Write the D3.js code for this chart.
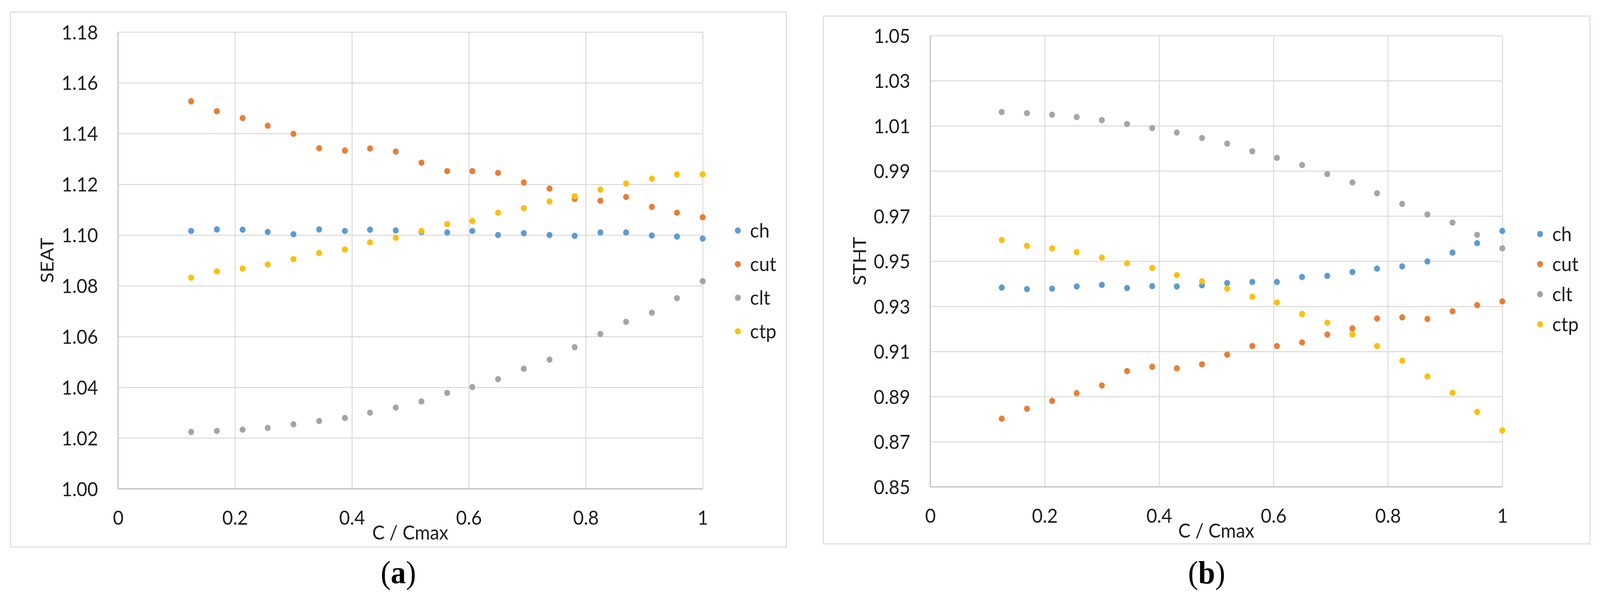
<html>
<head>
  <script src="https://d3js.org/d3.v7.min.js"></script>
  <style>
    html, body { margin: 0; padding: 0; background: #fff; overflow: hidden; }
    #fig { display: block; width: 100vw; height: 100vh; }
    text { font-family: Lato, "Open Sans", sans-serif; fill: #1e1e1e; }
    .grid line { stroke: #d9d9d9; stroke-width: 2.5px; }
    .frame { fill: none; stroke: #d9d9d9; stroke-width: 2.5px; }
    .axisline { stroke: #c4c4c4; stroke-width: 3px; }
  </style>
</head>
<body>
  <svg id="fig" viewBox="0 0 4324 1528" preserveAspectRatio="none"></svg>
  <script>
    // C / Cmax values (shared by both panels)
    const cRatio = [0.125, 0.169, 0.213, 0.256, 0.300, 0.344, 0.388, 0.431, 0.475, 0.519, 0.563,
                    0.606, 0.650, 0.694, 0.738, 0.781, 0.825, 0.869, 0.913, 0.956, 1.000];

    // panel (a): SEAT
    const seatCh  = [1.1016, 1.1022, 1.1021, 1.1012, 1.1003, 1.1022, 1.1016, 1.1021, 1.1018, 1.1012, 1.1010,
                     1.1016, 1.1000, 1.1007, 1.1000, 1.0997, 1.1010, 1.1010, 1.0998, 1.0994, 1.0986];
    const seatCut = [1.1527, 1.1488, 1.1461, 1.1431, 1.1399, 1.1342, 1.1333, 1.1341, 1.1329, 1.1285, 1.1252,
                     1.1252, 1.1245, 1.1207, 1.1183, 1.1142, 1.1135, 1.1150, 1.1111, 1.1088, 1.1070];
    const seatClt = [1.0224, 1.0228, 1.0233, 1.0240, 1.0254, 1.0267, 1.0279, 1.0300, 1.0320, 1.0344, 1.0378,
                     1.0401, 1.0432, 1.0473, 1.0509, 1.0558, 1.0610, 1.0658, 1.0694, 1.0751, 1.0818];
    const seatCtp = [1.0832, 1.0857, 1.0868, 1.0884, 1.0905, 1.0929, 1.0943, 1.0971, 1.0989, 1.1016, 1.1043,
                     1.1055, 1.1088, 1.1106, 1.1132, 1.1153, 1.1179, 1.1203, 1.1222, 1.1239, 1.1239];

    // panel (b): STHT
    const sthtCh  = [0.9383, 0.9376, 0.9378, 0.9388, 0.9395, 0.9381, 0.9389, 0.9388, 0.9393, 0.9403, 0.9408,
                     0.9408, 0.9430, 0.9435, 0.9452, 0.9467, 0.9477, 0.9499, 0.9538, 0.9580, 0.9634];
    const sthtCut = [0.8802, 0.8846, 0.8881, 0.8915, 0.8949, 0.9013, 0.9032, 0.9025, 0.9043, 0.9086, 0.9124,
                     0.9124, 0.9140, 0.9175, 0.9202, 0.9246, 0.9251, 0.9244, 0.9278, 0.9305, 0.9322];
    const sthtClt = [1.0161, 1.0156, 1.0149, 1.0139, 1.0125, 1.0108, 1.0090, 1.0070, 1.0046, 1.0021, 0.9987,
                     0.9958, 0.9926, 0.9886, 0.9849, 0.9801, 0.9754, 0.9707, 0.9671, 0.9617, 0.9557];
    const sthtCtp = [0.9594, 0.9568, 0.9557, 0.9540, 0.9516, 0.9491, 0.9470, 0.9438, 0.9411, 0.9379, 0.9342,
                     0.9317, 0.9266, 0.9227, 0.9175, 0.9124, 0.9059, 0.8989, 0.8917, 0.8832, 0.8750];

    const seriesNames = ["ch", "cut", "clt", "ctp"];
    const seriesColors = ["#5b9bd5", "#ed7d31", "#a5a5a5", "#ffc000"];

    const xTicks = [0, 0.2, 0.4, 0.6, 0.8, 1];
    const seatTicks = [1.00, 1.02, 1.04, 1.06, 1.08, 1.10, 1.12, 1.14, 1.16, 1.18];
    const sthtTicks = [0.85, 0.87, 0.89, 0.91, 0.93, 0.95, 0.97, 0.99, 1.01, 1.03, 1.05];

    const svg = d3.select("#fig");

    function drawPanel(p) {
      const g = svg.append("g");
      const w = p.plot.right - p.plot.left;
      const h = p.plot.bottom - p.plot.top;

      // outer chart border
      g.append("rect").attr("class", "frame")
        .attr("x", p.box[0]).attr("y", p.box[1])
        .attr("width", p.box[2] - p.box[0]).attr("height", p.box[3] - p.box[1]);

      const x = d3.scaleLinear().domain([0, 1]).range([p.plot.left, p.plot.right]);
      const y = d3.scaleLinear().domain(p.yDomain).range([p.plot.bottom, p.plot.top]);

      // vertical gridlines + x labels
      const gx = g.append("g").attr("class", "grid")
        .attr("transform", "translate(0," + p.plot.bottom + ")")
        .call(d3.axisBottom(x).tickValues(xTicks).tickSize(-h).tickFormat(d3.format("~g")));
      gx.select(".domain").remove();
      gx.selectAll("text").attr("y", 92).attr("dy", null)
        .style("font-size", "50px").style("font-family", "Lato").attr("fill", "#1e1e1e");

      // horizontal gridlines + y labels
      const gy = g.append("g").attr("class", "grid")
        .attr("transform", "translate(" + p.plot.left + ",0)")
        .call(d3.axisLeft(y).tickValues(p.yTicks).tickSize(-w).tickFormat(d3.format(".2f")));
      gy.select(".domain").remove();
      gy.selectAll("text").attr("x", -54).attr("dy", "0.36em")
        .style("font-size", "50px").style("font-family", "Lato").attr("fill", "#1e1e1e");

      // axis lines
      g.append("line").attr("class", "axisline")
        .attr("x1", p.plot.left).attr("x2", p.plot.right)
        .attr("y1", p.plot.bottom).attr("y2", p.plot.bottom);
      g.append("line").attr("class", "axisline")
        .attr("x1", p.plot.left).attr("x2", p.plot.left)
        .attr("y1", p.plot.top).attr("y2", p.plot.bottom);

      // points
      p.series.forEach((vals, i) => {
        g.append("g").selectAll("circle")
          .data(vals)
          .join("circle")
          .attr("cx", (d, j) => x(cRatio[j]))
          .attr("cy", d => y(d))
          .attr("r", 8)
          .attr("fill", seriesColors[i]);
      });

      // axis titles
      g.append("text")
        .attr("x", (p.plot.left + p.plot.right) / 2)
        .attr("y", p.plot.bottom + 130)
        .attr("text-anchor", "middle")
        .style("font-size", "50px")
        .text("C / Cmax");

      g.append("text")
        .attr("transform", "translate(" + (p.plot.left - 174) + "," + ((p.plot.top + p.plot.bottom) / 2) + ") rotate(-90)")
        .attr("text-anchor", "middle")
        .style("font-size", "50px")
        .text(p.yTitle);

      // legend
      const lg = g.append("g");
      seriesNames.forEach((name, i) => {
        const ly = p.legend.y0 + i * p.legend.step;
        lg.append("circle")
          .attr("cx", p.plot.right + p.legend.dx)
          .attr("cy", ly)
          .attr("r", 8)
          .attr("fill", seriesColors[i]);
        lg.append("text")
          .attr("x", p.plot.right + p.legend.dx + 33)
          .attr("y", ly)
          .attr("dy", "0.36em")
          .style("font-size", "51px")
          .text(name);
      });

      // panel letter
      const lab = g.append("text")
        .attr("x", (p.box[0] + p.box[2]) / 2)
        .attr("y", 1493)
        .attr("text-anchor", "middle")
        .style("font-family", "'Liberation Serif', 'DejaVu Serif', serif")
        .style("font-size", "82px")
        .style("fill", "#000");
      lab.append("tspan").text("(");
      lab.append("tspan").style("font-weight", "bold").text(p.letter);
      lab.append("tspan").text(")");
    }

    drawPanel({
      box: [28, 31, 2125, 1400],
      plot: { left: 319, right: 1899, top: 82, bottom: 1251 },
      yDomain: [1.00, 1.18],
      yTicks: seatTicks,
      yTitle: "SEAT",
      series: [seatCh, seatCut, seatClt, seatCtp],
      legend: { dx: 95, y0: 590, step: 86 },
      letter: "a"
    });

    drawPanel({
      box: [2225, 41, 4297, 1392],
      plot: { left: 2514, right: 4060, top: 91, bottom: 1246 },
      yDomain: [0.85, 1.05],
      yTicks: sthtTicks,
      yTitle: "STHT",
      series: [sthtCh, sthtCut, sthtClt, sthtCtp],
      legend: { dx: 102, y0: 599, step: 77 },
      letter: "b"
    });
  </script>
</body>
</html>
